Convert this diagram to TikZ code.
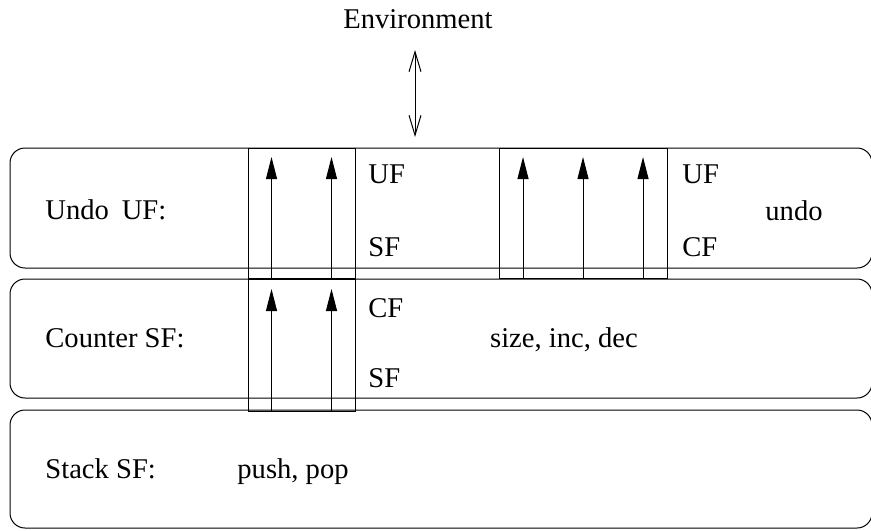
\documentclass[tikz,border=0pt]{standalone}
\usepackage{fontspec}
\setmainfont{Liberation Serif}
\usepackage{tikz}
\usetikzlibrary{arrows.meta}
\newcommand{\Lbl}[4]{% name x baseline text
\node[anchor=base west,inner sep=0pt] (#1) at (#2,#3) {#4};
}
\newcommand{\Lifts}[3]{% frame tip-y xlist
\foreach \x [count=\i] in {#3} {
  \coordinate (#1-\i) at (\x,#2);
  \draw[lift] (#1.south -| #1-\i) -- (#1-\i);
}
}

\begin{document}
\begin{tikzpicture}[x=0.5pt,y=-0.5pt,
  layer/.style={draw,line width=0.5pt,rounded corners=7.5pt,inner sep=0pt,minimum width=431pt},
  frame/.style={draw,line width=0.5pt,inner sep=0pt},
  lift/.style={line width=0.5pt,-{Triangle[length=11pt,width=5.5pt]}},
  link/.style={line width=0.5pt,{Straight Barb[length=10pt,width=6pt]}-{Straight Barb[length=10pt,width=6pt]}},
  font=\fontsize{14.3}{17}\selectfont]
\useasboundingbox (0,0) rectangle (871,530);
% the three layers
\node[layer,minimum height=60pt] (undo) at (441,208) {};
\node[layer,minimum height=59.5pt] (counter) at (441,338.5) {};
\node[layer,minimum height=59pt] (stack) at (441,469) {};
% pass-through frames
\node[frame,minimum width=53.5pt,minimum height=65pt] (frA) at (301.5,213) {};
\node[frame,minimum width=53.5pt,minimum height=66pt] (frB) at (301.5,345) {};
\node[frame,minimum width=84pt,minimum height=65pt] (frC) at (583,213) {};
\Lifts{frA}{157}{271.5,331.5}
\Lifts{frB}{289}{271.5,331.5}
\Lifts{frC}{157}{523,583,643}
% environment
\node[anchor=base] (env) at (418,28) {Environment};
\coordinate (envTop) at (415,50);
\coordinate (envBot) at (415,137);
\draw[link] (envTop) -- (envBot);
% labels
\Lbl{undoName}{45}{219}{Undo\hspace{0.45em}UF:}
\Lbl{undoUF}{368}{183}{UF}
\Lbl{undoSF}{368}{256}{SF}
\Lbl{undoUF2}{682}{183}{UF}
\Lbl{undoCF}{682}{256}{CF}
\Lbl{undoOps}{765}{220}{undo}
\Lbl{counterName}{45}{347}{Counter SF:}
\Lbl{counterCF}{368}{317}{CF}
\Lbl{counterSF}{368}{387}{SF}
\node[anchor=base] (counterOps) at (564,347) {size, inc, dec};
\Lbl{stackName}{45}{478}{Stack SF:}
\Lbl{stackOps}{237}{478}{push, pop}
\end{tikzpicture}
\end{document}
